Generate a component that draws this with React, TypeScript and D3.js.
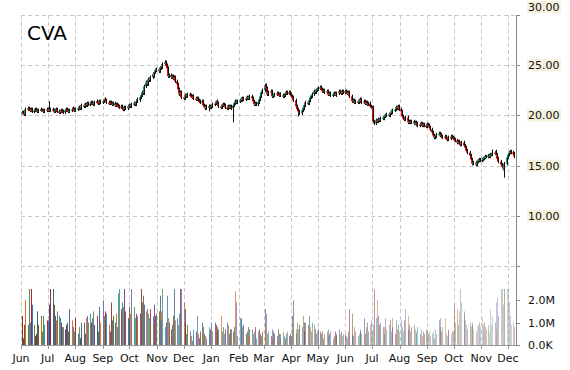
import React from 'react';
import * as d3 from 'd3';

const symbol = 'CVA';

// daily closes, Jun 2014 .. Dec 2014 (one line per month)
const closes2014 = [
  20.3, 20.2, 20.1, 20.4, 20.6, 20.7, 20.6, 20.5, 20.6, 20.4, 20.5, 20.6, 20.5, 20.4, 20.5, 20.6, 20.5, 20.5, 20.4, 20.5, 20.6,
  20.5, 20.6, 20.5, 20.6, 20.5, 20.4, 20.5, 20.6, 20.4, 20.3, 20.4, 20.5, 20.4, 20.3, 20.5, 20.6, 20.5, 20.4, 20.5, 20.6, 20.7, 20.6, 20.5,
  20.6, 20.7, 20.8, 20.7, 20.9, 21.0, 20.9, 21.1, 21.0, 21.2, 21.1, 21.2, 21.3, 21.2, 21.1, 21.3, 21.4, 21.3, 21.2, 21.4, 21.3,
  21.4, 21.5, 21.6, 21.5, 21.3, 21.2, 21.3, 21.2, 21.1, 21.2, 21.0, 21.1, 21.0, 20.9, 20.8, 20.9, 20.7, 20.6, 20.8, 20.7, 20.9, 20.9,
  21.0, 20.9, 21.1, 21.2, 21.1, 21.4, 21.6, 21.5, 21.8, 22.0, 22.3, 22.2, 22.9, 23.3, 23.1, 23.6, 23.5, 23.8, 24.1, 23.9, 24.3, 24.5, 24.6,
  24.4, 24.7, 24.9, 24.8, 25.1, 25.3, 25.0, 24.7, 23.9, 24.0, 23.8, 23.9, 23.7, 23.8, 23.4, 23.1, 22.6, 22.1, 22.3, 21.8,
  21.7, 21.9, 22.0, 21.9, 22.1, 22.0, 21.9, 21.8, 21.9, 21.7, 21.6, 21.7, 21.5, 21.4, 21.3, 21.4, 21.0, 20.9, 20.7, 20.9, 20.8, 20.9, 20.8,
];

// daily closes, Jan 2015 .. Dec 2015
const closes2015 = [
  20.9, 21.1, 21.2, 21.3, 21.4, 21.2, 20.9, 20.8, 21.0, 21.1, 21.0, 20.8, 20.7, 20.9, 20.8, 20.9, 20.7, 21.0, 21.2, 21.4, 21.3, 21.4,
  21.5, 21.6, 21.5, 21.7, 21.6, 21.7, 21.8, 21.7, 21.8, 21.9, 21.7, 21.4, 21.1, 21.2, 21.1, 21.3, 21.6, 21.9, 22.3, 22.5,
  22.8, 23.0, 22.7, 22.1, 22.3, 22.4, 22.2, 21.9, 22.0, 22.1, 22.2, 22.1, 22.0, 22.1, 22.0, 21.9, 22.0, 22.2, 22.3, 22.2, 22.3, 22.1,
  21.9, 21.8, 21.5, 21.2, 20.9, 20.6, 20.4, 20.2, 20.5, 20.8, 20.7, 21.0, 21.3, 21.2, 21.5, 21.8, 21.9, 22.1, 22.4, 22.3, 22.5, 22.6,
  22.7, 22.8, 22.6, 22.4, 22.5, 22.3, 22.4, 22.2, 22.1, 22.2, 22.0, 22.1, 22.2, 22.1, 22.0, 22.2, 22.4, 22.3, 22.2, 22.4, 22.3,
  22.4, 22.3, 22.2, 22.3, 21.9, 21.7, 21.4, 21.5, 21.3, 21.4, 21.3, 21.5, 21.4, 21.6, 21.3, 21.4, 21.2, 21.3, 21.1, 21.2, 20.9, 20.8,
  20.8, 19.4, 19.2, 19.5, 19.4, 19.6, 19.5, 19.7, 19.8, 19.7, 19.9, 20.0, 20.1, 20.0, 20.2, 20.4, 20.3, 20.5, 20.6, 20.8, 20.7, 20.9, 20.6,
  20.4, 19.9, 19.7, 19.6, 19.8, 19.5, 19.3, 19.4, 19.3, 19.4, 19.2, 19.3, 19.1, 19.2, 19.0, 19.1, 19.2, 19.0, 19.1, 19.0, 18.9,
  19.1, 19.0, 18.8, 18.6, 18.3, 18.0, 17.8, 17.9, 18.1, 18.2, 18.0, 18.1, 17.9, 17.8, 17.9, 17.7, 17.6, 17.8, 17.7, 17.9, 17.8, 17.7,
  17.6, 17.5, 17.3, 17.4, 17.2, 17.1, 17.3, 17.2, 17.0, 16.8, 16.5, 16.3, 16.0, 15.6, 15.4, 15.2, 15.3, 15.1, 15.4, 15.5, 15.6, 15.5,
  15.6, 15.7, 15.8, 15.9, 15.9, 16.0, 15.9, 16.1, 16.1, 16.2, 16.3, 16.4, 16.1, 15.7, 15.4, 15.1, 14.9, 14.7, 14.5, 15.2, 15.8,
  16.1, 16.3, 16.4, 16.3, 16.2, 15.9,
];

// daily volume in millions of shares
const volumes2014 = [
  1.3, 0.3, 0.9, 0.9, 2.0, 0.9, 2.8, 1.0, 2.7, 1.8, 0.9, 0.4, 0.5, 1.5, 0.9, 1.3, 1.2, 0.6, 1.3, 0.9, 1.1,
  1.1, 0.8, 1.8, 3.0, 2.6, 1.8, 1.3, 1.1, 1.5, 1.3, 1.2, 1.0, 0.8, 0.8, 0.7, 0.9, 1.0, 0.6, 1.6, 1.1, 0.8, 0.6, 0.6,
  1.2, 0.5, 0.8, 0.3, 0.5, 1.0, 1.0, 0.5, 1.2, 1.3, 1.0, 1.4, 1.0, 1.2, 1.5, 0.9, 1.3, 0.9, 0.6, 1.7, 1.0,
  2.0, 1.3, 1.1, 1.5, 1.4, 0.9, 0.6, 1.9, 1.1, 1.3, 1.0, 1.4, 0.8, 2.3, 2.7, 1.6, 1.9, 1.7, 2.6, 1.5, 1.2, 1.7,
  1.1, 1.4, 2.8, 1.7, 1.2, 1.4, 1.3, 1.1, 1.4, 2.6, 1.9, 2.2, 1.8, 1.5, 1.6, 1.4, 1.2, 1.6, 1.3, 1.0, 1.8, 1.3, 1.4,
  1.5, 2.2, 1.5, 1.1, 2.8, 0.8, 1.0, 2.2, 1.2, 1.0, 0.7, 0.9, 1.3, 2.7, 1.1, 1.2, 0.9, 1.4, 2.9, 2.6,
  1.9, 1.6, 1.0, 0.5, 0.9, 0.6, 0.4, 0.2, 0.4, 0.7, 0.6, 1.3, 0.5, 0.3, 0.6, 1.0, 0.8, 0.5, 0.4, 0.3, 0.8, 0.5, 0.7,
];

const volumes2015 = [
  1.0, 0.6, 1.0, 0.9, 0.6, 0.8, 0.7, 1.3, 0.6, 0.8, 0.5, 0.7, 1.0, 0.9, 0.5, 0.7, 0.7, 0.6, 0.8, 2.4, 1.9, 0.4,
  1.2, 1.2, 1.1, 0.8, 0.9, 0.5, 0.6, 0.8, 0.7, 0.4, 0.7, 0.5, 0.6, 0.8, 0.3, 0.6, 0.7, 0.5, 0.4, 0.6,
  1.6, 0.9, 1.4, 0.5, 0.6, 0.4, 0.7, 0.3, 0.6, 0.5, 0.4, 0.7, 0.5, 0.3, 0.5, 0.6, 0.4, 0.3, 0.5, 0.6, 0.4, 0.5,
  0.4, 1.3, 2.0, 0.7, 0.5, 1.0, 0.7, 0.9, 0.8, 1.3, 0.6, 1.0, 1.0, 0.9, 1.3, 0.8, 0.6, 1.0, 0.9, 0.7, 0.5, 0.6,
  0.7, 0.6, 0.5, 0.6, 0.3, 0.5, 0.6, 0.7, 0.4, 0.5, 0.6, 0.3, 0.4, 0.6, 0.5, 0.4, 0.7, 0.5, 0.6, 0.4, 0.5,
  0.5, 0.4, 0.3, 0.6, 1.6, 0.5, 1.4, 0.4, 0.8, 0.6, 0.4, 0.5, 0.6, 0.7, 0.5, 1.2, 0.5, 0.8, 1.0, 0.6, 0.9, 1.1,
  0.6, 0.9, 2.6, 1.2, 2.0, 1.3, 0.9, 1.0, 0.8, 0.5, 0.8, 1.2, 0.7, 0.9, 1.1, 0.6, 1.2, 0.8, 0.5, 1.1, 0.7, 0.9, 0.6,
  1.1, 0.8, 0.6, 1.1, 1.6, 1.3, 0.7, 0.9, 0.6, 0.8, 0.9, 0.7, 0.5, 0.6, 0.8, 0.5, 0.7, 0.4, 0.6, 0.5, 0.7,
  0.6, 0.5, 0.6, 0.4, 0.5, 0.6, 0.3, 0.7, 0.5, 1.1, 0.8, 1.2, 0.6, 0.8, 1.2, 0.5, 0.4, 0.6, 0.7, 0.5, 0.6, 0.6,
  1.8, 1.0, 1.6, 0.9, 1.5, 2.6, 1.9, 1.4, 1.5, 1.1, 0.9, 0.7, 1.0, 0.8, 0.9, 1.0, 0.7, 0.6, 0.8, 0.9, 1.0, 0.8,
  1.2, 0.9, 1.0, 0.8, 0.7, 0.9, 0.6, 1.6, 0.9, 1.3, 1.0, 1.9, 0.7, 2.1, 1.3, 2.7, 2.6, 1.8, 2.8, 2.6, 2.9,
  2.6, 1.9, 1.3, 0.9, 1.0, 0.8,
];

// days whose wick reaches well past the body
const wickDates = ['2014-07-03', '2014-12-29', '2015-01-26', '2015-04-09', '2015-11-13', '2015-11-26'];
const wickHighs = [21.4, null, null, null, 16.6, null];
const wickLows = [null, 20.4, 19.3, 19.9, null, 13.8];

const priceTicks = [5, 10, 15, 20, 25, 30];
const volumeTicks = [0, 1, 2];
const volumeTickLabels = ['0.0K', '1.0M', '2.0M'];
const volumeCap = 2.5;

const barColors = ['#8b2a2a', '#2f6b6b', '#6b5a1e', '#3a5c8c', '#d2691e', '#7060a8', '#4a944a', '#1f9aa3', '#a8203a', '#3a72c4', '#8a7a2a', '#5a3a7a'];

const App = () => {
  const width = 570;
  const height = 370;
  const left = 21;
  const right = 516;
  const top = 15;
  const baseY = 345;

  const closes = closes2014.concat(closes2015);
  const volumes = volumes2014.concat(volumes2015);
  const fmt = d3.timeFormat('%Y-%m-%d');
  const days = d3.timeDay
    .range(new Date(2014, 5, 2), new Date(2015, 11, 31))
    .filter((d) => d.getDay() !== 0 && d.getDay() !== 6)
    .slice(0, closes.length);

  const candles = days.map((date, i) => {
    const close = closes[i];
    const open = i === 0 ? close : closes[i - 1];
    const w = wickDates.indexOf(fmt(date));
    let high = Math.max(open, close) + 0.17;
    let low = Math.min(open, close) - 0.17;
    if (w >= 0 && wickHighs[w] != null) high = wickHighs[w];
    if (w >= 0 && wickLows[w] != null) low = wickLows[w];
    return { date, open, close, high, low, volume: volumes[i] };
  });

  const x = d3.scaleTime().domain([new Date(2014, 5, 1), new Date(2015, 11, 10)]).range([left, right]);
  const y = d3.scaleLinear().domain([5, 30]).range([266, top]);
  const yv = d3.scaleLinear().domain([0, 1]).range([baseY, baseY - 22.4]);
  const months = x.ticks(d3.timeMonth.every(1));
  const monthFmt = d3.timeFormat('%b');

  const font = '"DejaVu Sans", Verdana, sans-serif';
  const gridColor = '#c8c8c8';
  const n = candles.length;

  return (
    <svg width={width} height={height} style={{ position: 'absolute', left: 0, top: 0 }}>
      <rect width={width} height={height} fill="#fff" />

      {/* grid */}
      {priceTicks.map((t) => (
        <line key={'h' + t} x1={left} x2={right} y1={Math.round(y(t)) + 0.5} y2={Math.round(y(t)) + 0.5}
          stroke={gridColor} strokeDasharray="4,3" />
      ))}
      {months.map((m) => (
        <line key={'v' + +m} x1={Math.round(x(m)) + 0.5} x2={Math.round(x(m)) + 0.5} y1={top} y2={baseY}
          stroke={gridColor} strokeDasharray="4,3" />
      ))}

      {/* volume */}
      {candles.map((c, i) => {
        const vx = Math.round(x(c.date));
        const yt = yv(Math.min(c.volume, volumeCap));
        return (
          <rect key={'vol' + i} x={vx} y={yt} width={1} height={baseY - yt}
            fill={barColors[i % barColors.length]} opacity={1 - 0.68 * (i / n)} />
        );
      })}

      {/* candles */}
      {candles.map((c, i) => {
        const cx = Math.round(x(c.date));
        const yo = y(c.open);
        const yc = y(c.close);
        const bodyTop = Math.min(yo, yc);
        const bodyH = Math.max(1.5, Math.abs(yo - yc));
        return (
          <g key={'c' + i}>
            <rect x={cx - 1} y={bodyTop} width={2} height={bodyH} fill={c.close >= c.open ? '#0b9a6b' : '#ff0000'} />
            <line x1={cx + 0.5} x2={cx + 0.5} y1={y(c.high)} y2={y(c.low)} stroke="#111" strokeWidth={1} />
          </g>
        );
      })}

      {/* axes */}
      <line x1={left} x2={right} y1={baseY + 0.5} y2={baseY + 0.5} stroke="#999" />
      <line x1={right + 0.5} x2={right + 0.5} y1={top} y2={baseY} stroke="#888" />
      {months.map((m) => (
        <g key={'m' + +m}>
          <line x1={Math.round(x(m)) + 0.5} x2={Math.round(x(m)) + 0.5} y1={baseY} y2={baseY + 4} stroke="#999" />
          <text x={x(m)} y={362} textAnchor="middle" fontFamily={font} fontSize={11} fill="#111">
            {monthFmt(m)}
          </text>
        </g>
      ))}
      {priceTicks.map((t) => (
        <line key={'pt' + t} x1={right} x2={right + 4} y1={Math.round(y(t)) + 0.5} y2={Math.round(y(t)) + 0.5} stroke="#888" />
      ))}
      {priceTicks.filter((t) => t >= 10).map((t) => {
        const ty = t === 30 ? y(t) - 8 : y(t);
        return (
          <g key={'pl' + t}>
            <rect x={527} y={ty - 6} width={34} height={12} fill="#f6f1dc" />
            <text x={528} y={ty + 4} fontFamily={font} fontSize={11} fill="#111">
              {d3.format('.2f')(t)}
            </text>
          </g>
        );
      })}
      {volumeTicks.map((t, i) => (
        <g key={'vl' + t}>
          <line x1={right} x2={right + 4} y1={Math.round(yv(t)) + 0.5} y2={Math.round(yv(t)) + 0.5} stroke="#888" />
          <text x={528} y={yv(t) + 4} fontFamily={font} fontSize={11} fill="#111">
            {volumeTickLabels[i]}
          </text>
        </g>
      ))}

      <text x={27} y={40} fontFamily={font} fontSize={20} fill="#000">{symbol}</text>
    </svg>
  );
};

export default App;
